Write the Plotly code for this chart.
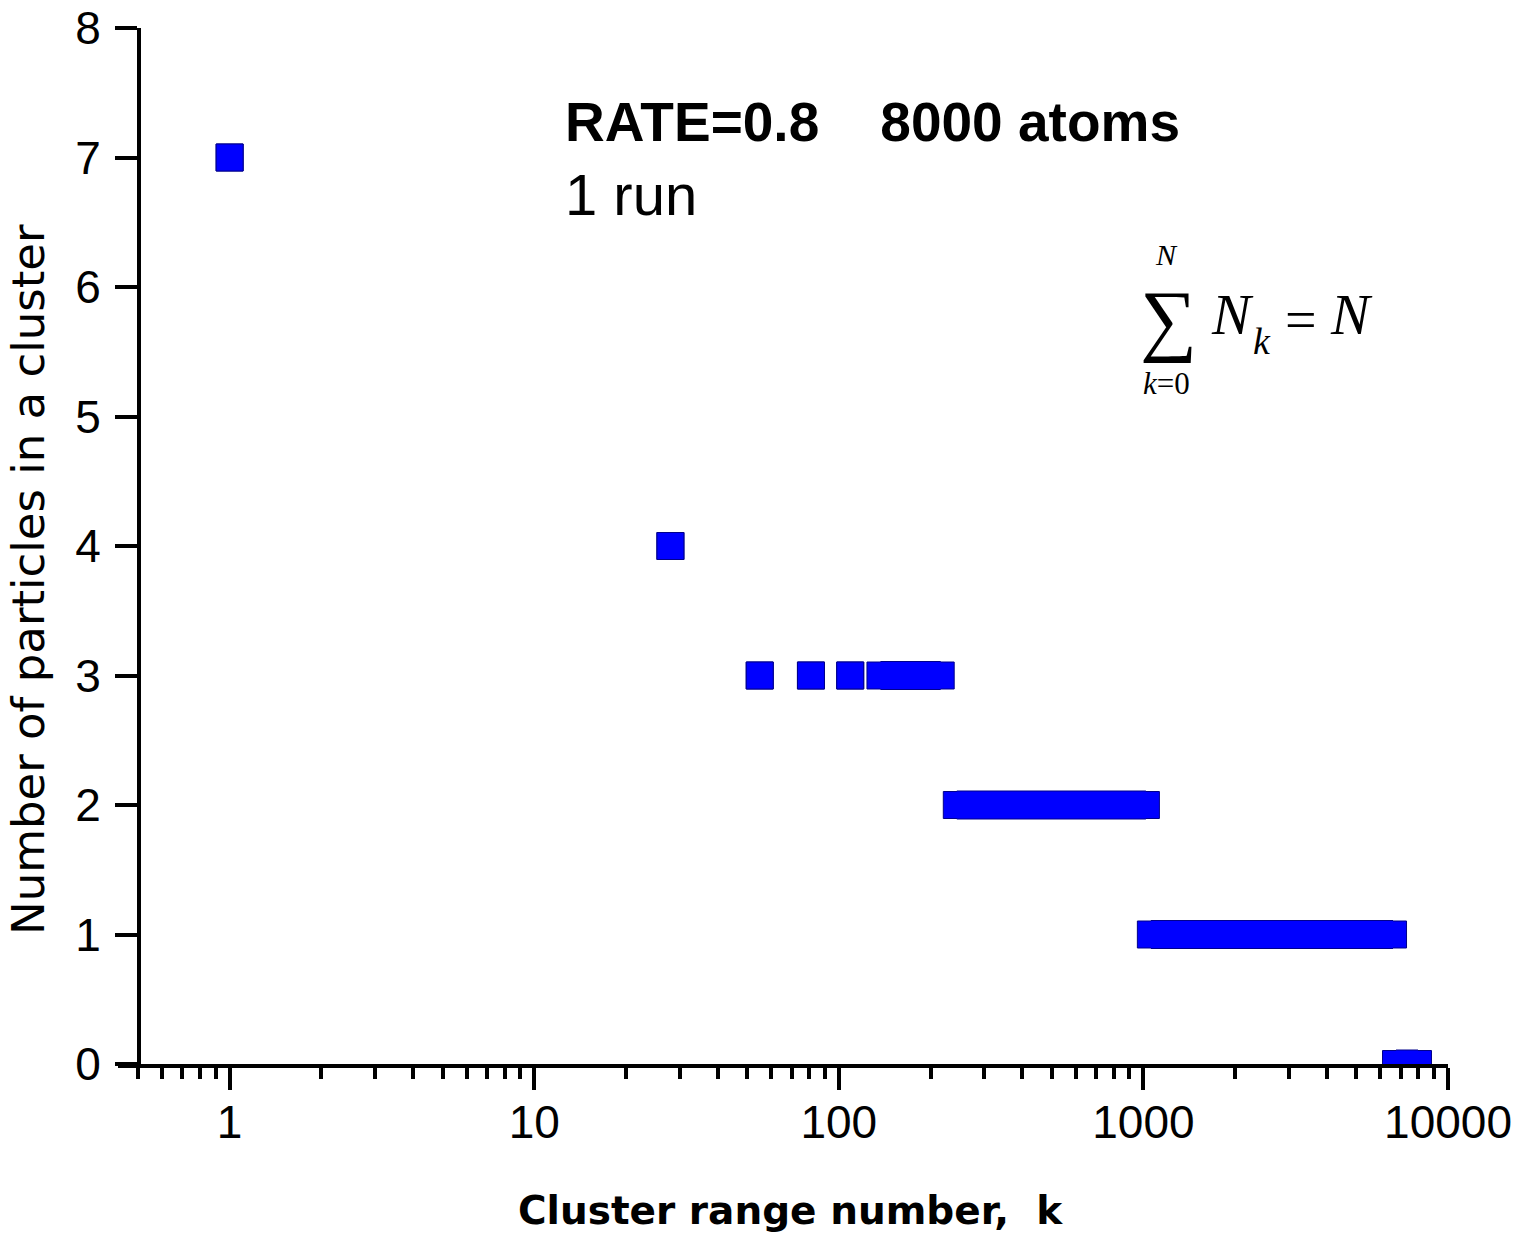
import plotly.graph_objects as go

# ---- data ----
# each run: horizontal stretch of consecutive cluster ranks k with the same count
run_count = [7, 4, 3, 3, 3, 3, 2, 1, 0]
run_k_start = [1, 28, 55, 81, 109, 137, 244, 1058, 6750]
run_k_end = [1, 28, 55, 81, 109, 216, 1019, 6600, 7970]

major_ticks = [1, 10, 100, 1000, 10000]
major_labels = ["1", "10", "100", "1000", "10000"]
minor_ticks = [0.5, 0.6, 0.7, 0.8, 0.9,
               2, 3, 4, 5, 6, 7, 8, 9,
               20, 30, 40, 50, 60, 70, 80, 90,
               200, 300, 400, 500, 600, 700, 800, 900,
               2000, 3000, 4000, 5000, 6000, 7000, 8000, 9000]
y_ticks = [0, 1, 2, 3, 4, 5, 6, 7, 8]

# ---- layout geometry (pixels) ----
W, H = 1518, 1240
L, R, T, B = 118, 70, 28, 176
PW, PH = W - L - R, H - T - B


def px(x):
    return (x - L) / PW


def py(y):
    return (H - B - y) / PH


xs, ys = [], []
for c, s, e in zip(run_count, run_k_start, run_k_end):
    xs += [s, e, None]
    ys += [c, c, None]

BLUE = "#0000FF"
EDGE = "#00008B"
fig = go.Figure()
# dark outline of the runs
fig.add_trace(go.Scatter(x=xs, y=ys, mode="lines", line=dict(color=EDGE, width=29),
                         connectgaps=False, showlegend=False, hoverinfo="skip"))
# square markers at run ends
fig.add_trace(go.Scatter(x=xs, y=ys, mode="markers",
                         marker=dict(symbol="square", size=27, color=BLUE,
                                     line=dict(color=EDGE, width=1)),
                         showlegend=False))
# blue fill of the runs
fig.add_trace(go.Scatter(x=xs, y=ys, mode="lines", line=dict(color=BLUE, width=27),
                         connectgaps=False, showlegend=False, hoverinfo="skip"))

AX_FONT = dict(family="Liberation Sans, Arial, sans-serif", size=46, color="black")

fig.update_layout(
    width=W, height=H, autosize=False,
    margin=dict(l=L, r=R, t=T, b=B, pad=0),
    paper_bgcolor="white", plot_bgcolor="white",
    xaxis=dict(
        type="log", range=[-0.3665, 4], automargin=False,
        showgrid=False, zeroline=False,
        showline=True, linecolor="black", linewidth=4,
        tickmode="array", tickvals=major_ticks, ticktext=major_labels,
        ticks="outside", ticklen=22, tickwidth=4, tickcolor="black",
        tickfont=AX_FONT, ticklabelstandoff=-7,
        minor=dict(tickmode="array", tickvals=minor_ticks, ticks="outside",
                   ticklen=11, tickwidth=4, tickcolor="black", showgrid=False),
    ),
    yaxis=dict(
        range=[0, 8], anchor="free", position=px(139), automargin=False,
        showgrid=False, zeroline=False,
        showline=True, linecolor="black", linewidth=4,
        tickmode="array", tickvals=y_ticks,
        ticks="outside", ticklen=22, tickwidth=4, tickcolor="black",
        tickfont=AX_FONT, ticklabelstandoff=5,
    ),
)

ann = []
# axis titles
ann.append(dict(text="<b>Cluster range number,\u00a0\u00a0k</b>", x=px(791), y=py(1210),
                font=dict(family="DejaVu Sans", size=39, color="black")))
ann.append(dict(text="Number of particles in a cluster", x=px(28), y=py(580), textangle=-90,
                font=dict(family="DejaVu Sans", size=45, color="black")))
# info text
ann.append(dict(text="<b>RATE=0.8\u00a0\u00a0\u00a0\u00a08000 atoms</b>", x=px(563), y=py(122),
                xanchor="left", font=dict(family="Liberation Sans", size=55, color="black")))
ann.append(dict(text="1 run", x=px(563), y=py(195), xanchor="left",
                font=dict(family="Liberation Sans", size=58, color="black")))
# formula
SERIF = "Liberation Serif, Times New Roman, serif"
ann.append(dict(text="\u2211", x=px(1168), y=py(319), font=dict(family=SERIF, size=80, color="black")))
ann.append(dict(text="<i>N</i>", x=px(1166), y=py(254), font=dict(family=SERIF, size=30, color="black")))
ann.append(dict(text="<i>k</i>=0", x=px(1166), y=py(383), font=dict(family=SERIF, size=31, color="black")))
ann.append(dict(text="<i>N</i>", x=px(1232), y=py(315), font=dict(family=SERIF, size=58, color="black")))
ann.append(dict(text="<i>k</i>", x=px(1262), y=py(341), font=dict(family=SERIF, size=38, color="black")))
ann.append(dict(text="=", x=px(1301), y=py(320), font=dict(family=SERIF, size=56, color="black")))
ann.append(dict(text="<i>N</i>", x=px(1351), y=py(315), font=dict(family=SERIF, size=58, color="black")))

for a in ann:
    a.setdefault("xanchor", "center")
    a.setdefault("yanchor", "middle")
    a.update(xref="paper", yref="paper", showarrow=False)
fig.update_layout(annotations=ann)

fig.write_html("out.html")
